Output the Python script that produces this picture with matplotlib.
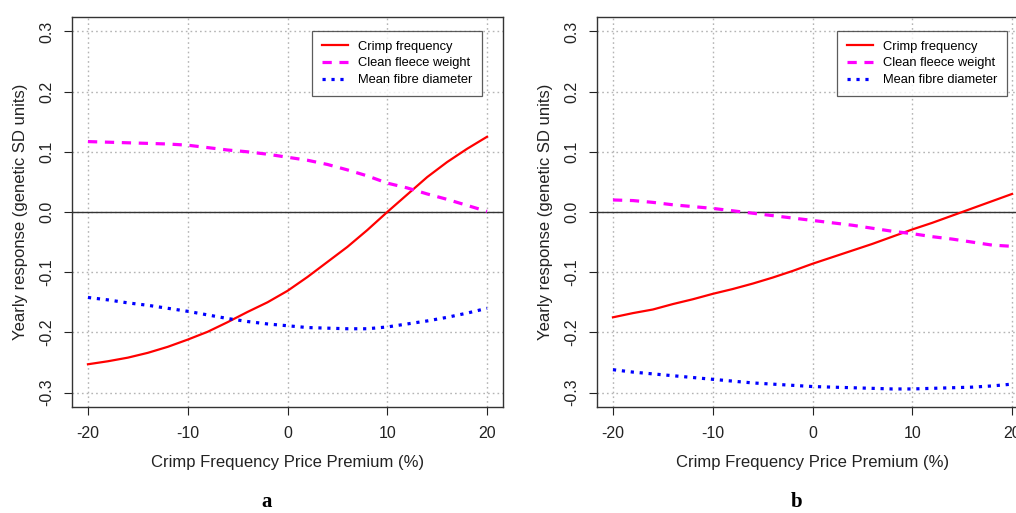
import matplotlib
matplotlib.use("Agg")
import matplotlib.pyplot as plt
import numpy as np

plt.rcParams['font.family'] = ['Liberation Sans', 'DejaVu Sans']

premium = [-20, -18, -16, -14, -12, -10, -8, -6, -4, -2, 0, 2, 4, 6, 8, 10, 12, 14, 16, 18, 20]

# panel a
crimp_a = [-0.253, -0.248, -0.242, -0.234, -0.224, -0.212, -0.199, -0.183, -0.166, -0.150, -0.131,
           -0.108, -0.083, -0.058, -0.030, 0.000, 0.029, 0.058, 0.083, 0.105, 0.125]
fleece_a = [0.117, 0.116, 0.115, 0.114, 0.113, 0.111, 0.107, 0.103, 0.100, 0.096, 0.091,
            0.086, 0.079, 0.070, 0.060, 0.048, 0.040, 0.030, 0.021, 0.011, 0.001]
fibre_a = [-0.142, -0.146, -0.151, -0.155, -0.160, -0.165, -0.171, -0.177, -0.182, -0.186, -0.189,
           -0.192, -0.193, -0.194, -0.194, -0.191, -0.186, -0.181, -0.175, -0.168, -0.160]

# panel b
crimp_b = [-0.175, -0.168, -0.162, -0.153, -0.145, -0.136, -0.128, -0.119, -0.109, -0.098, -0.086,
           -0.075, -0.064, -0.053, -0.041, -0.029, -0.018, -0.006, 0.006, 0.018, 0.030]
fleece_b = [0.020, 0.019, 0.016, 0.012, 0.009, 0.006, 0.002, -0.002, -0.006, -0.010, -0.014,
            -0.018, -0.022, -0.027, -0.032, -0.036, -0.041, -0.045, -0.050, -0.055, -0.057]
fibre_b = [-0.262, -0.266, -0.269, -0.272, -0.275, -0.278, -0.281, -0.284, -0.286, -0.288, -0.290,
           -0.291, -0.292, -0.293, -0.294, -0.294, -0.293, -0.292, -0.291, -0.289, -0.286]

series_names = ["Crimp frequency", "Clean fleece weight", "Mean fibre diameter"]
xticks = [-20, -10, 0, 10, 20]
yticks = [-0.3, -0.2, -0.1, 0.0, 0.1, 0.2, 0.3]

fig = plt.figure(figsize=(10.16, 5.13), dpi=100)
W, H = 1016, 513


def panel(left_px, crimp, fleece, fibre, letter, letter_x):
    ax = fig.add_axes([left_px / W, 1 - 407 / H, 431 / W, 390 / H])
    ax.set_xlim(-21.6, 21.6)
    ax.set_ylim(-0.324, 0.324)
    for gx in xticks:
        ax.axvline(gx, color='#b4b4b4', lw=1.0, ls=(0, (1.2, 2.2)), zorder=0)
    for gy in yticks:
        ax.axhline(gy, color='#b4b4b4', lw=1.0, ls=(0, (1.2, 2.2)), zorder=0)
    ax.axhline(0, color='#333333', lw=1.0, zorder=1)
    ax.plot(premium, crimp, color='red', lw=1.6, label=series_names[0], zorder=3)
    ax.plot(premium, fleece, color='magenta', lw=2.3, ls=(0, (2.9, 2.4)), label=series_names[1], zorder=3)
    ax.plot(premium, fibre, color='blue', lw=2.3, ls=(0, (1.0, 1.8)), label=series_names[2], zorder=3)
    ax.set_xticks(xticks)
    ax.set_xticklabels([str(v) for v in xticks])
    ax.set_yticks(yticks)
    ax.set_yticklabels(["%.1f" % v for v in yticks], rotation=90, va='center')
    ax.tick_params(direction='out', length=6, width=0.8, labelsize=11.5, colors='#222222', pad=7)
    ax.tick_params(axis='x', pad=8)
    for s in ax.spines.values():
        s.set_color('#333333')
        s.set_linewidth(1.0)
    ax.set_xlabel("Crimp Frequency Price Premium (%)", fontsize=12, labelpad=10, color='#222222')
    ax.set_ylabel("Yearly response (genetic SD units)", fontsize=12, labelpad=8, color='#222222')
    leg = ax.legend(loc='upper right', bbox_to_anchor=(0.952, 0.965), fontsize=9.3, frameon=True,
                    fancybox=False, handlelength=2.0, borderpad=0.78, labelspacing=0.36,
                    handletextpad=0.8, borderaxespad=0)
    leg.get_frame().set_edgecolor('#333333')
    leg.get_frame().set_linewidth(0.9)
    fig.text(letter_x / W, 1 - 502 / H, letter, ha='center', va='center',
             fontsize=15, fontweight='bold', family=['Liberation Serif', 'DejaVu Serif'])
    return ax


panel(72, crimp_a, fleece_a, fibre_a, "a", 267)
panel(597, crimp_b, fleece_b, fibre_b, "b", 797)

fig.savefig("out.png", dpi=100)
